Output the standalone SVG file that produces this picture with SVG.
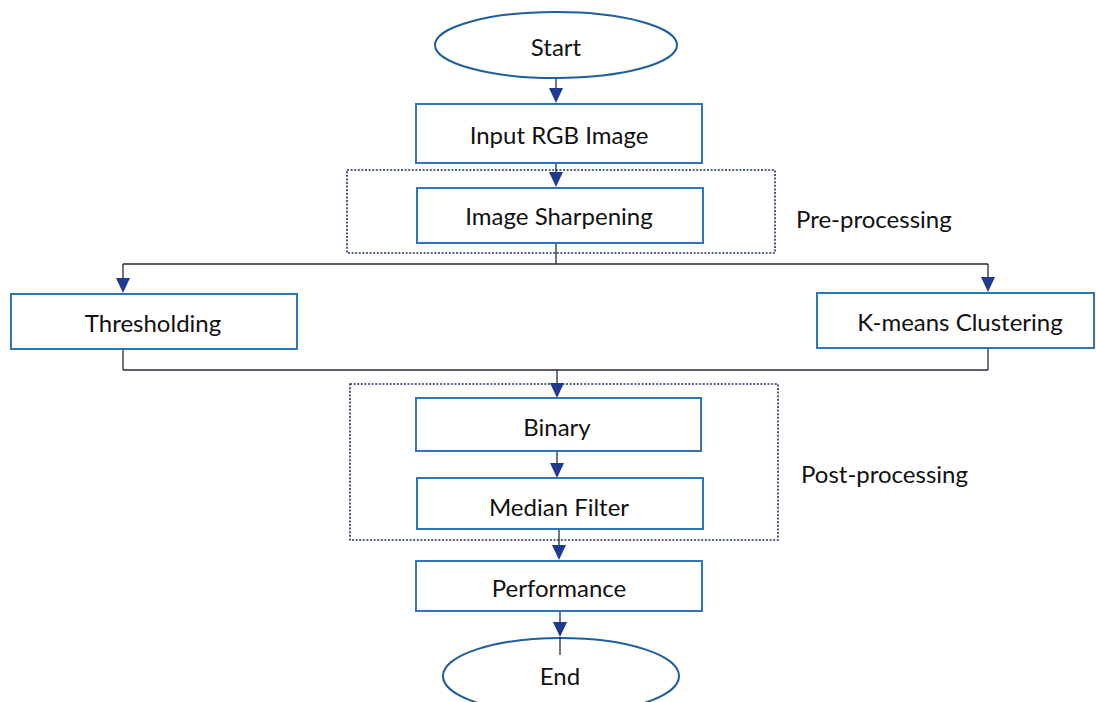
<svg xmlns="http://www.w3.org/2000/svg" width="1096" height="702" viewBox="0 0 1096 702">
<style>
.box{fill:#fff;stroke:#2e75b6;stroke-width:2}
.ell{fill:#fff;stroke:#1f5f9f;stroke-width:2}
.grp{fill:none;stroke:#1f2f5f;stroke-width:1.6;stroke-dasharray:2 1.6}
.ln{fill:none;stroke:#2a2a3a;stroke-width:1.3}
.ah{fill:#1f3b8f}
.t{font-family:Lato,"Liberation Sans",sans-serif;font-size:24px;fill:#111;text-anchor:middle;dominant-baseline:central}
.lbl{font-family:Lato,"Liberation Sans",sans-serif;font-size:24px;fill:#111;dominant-baseline:central}
</style>
<rect width="1096" height="702" fill="#fff"/>
<g id="preprocessing-group">
<rect class="grp" x="347" y="170" width="428" height="83"/>
<text class="lbl" x="796" y="218">Pre-processing</text>
</g>
<g id="postprocessing-group">
<rect class="grp" x="350" y="384" width="428" height="156"/>
<text class="lbl" x="801" y="473">Post-processing</text>
</g>
<g id="connectors">
<path class="ln" d="M556,77 V90"/>
<path class="ln" d="M556,163 V175"/>
<path class="ln" d="M556,243 V264 M123,264 H988 M123,264 V280 M988,264 V280"/>
<path class="ln" d="M123,349 V370 M988,348 V370 M123,370 H988 M557,370 V385"/>
<path class="ln" d="M557,451 V465"/>
<path class="ln" d="M559,529 V548"/>
<path class="ln" d="M560,611 V625"/>
<path class="ah" d="M549,88 L563,88 L556,103 Z"/>
<path class="ah" d="M549,172 L563,172 L556,187 Z"/>
<path class="ah" d="M116,278 L130,278 L123,293 Z"/>
<path class="ah" d="M981,277 L995,277 L988,292 Z"/>
<path class="ah" d="M550,383 L564,383 L557,398 Z"/>
<path class="ah" d="M550,463 L564,463 L557,478 Z"/>
<path class="ah" d="M552,545 L566,545 L559,560 Z"/>
<path class="ah" d="M553,622 L567,622 L560,637 Z"/>
</g>
<g id="start">
<ellipse class="ell" cx="556" cy="45" rx="121" ry="33"/>
<text class="t" x="556" y="46">Start</text>
</g>
<g id="input-rgb-image">
<rect class="box" x="416" y="104" width="286" height="59"/>
<text class="t" x="559" y="134">Input RGB Image</text>
</g>
<g id="image-sharpening">
<rect class="box" x="417" y="188" width="286" height="55"/>
<text class="t" x="559" y="215">Image Sharpening</text>
</g>
<g id="thresholding">
<rect class="box" x="11" y="294" width="286" height="55"/>
<text class="t" x="153" y="322">Thresholding</text>
</g>
<g id="kmeans-clustering">
<rect class="box" x="817" y="293" width="277" height="55"/>
<text class="t" x="960" y="321">K-means Clustering</text>
</g>
<g id="binary">
<rect class="box" x="416" y="398" width="285" height="53"/>
<text class="t" x="557" y="426">Binary</text>
</g>
<g id="median-filter">
<rect class="box" x="417" y="478" width="286" height="51"/>
<text class="t" x="559" y="506">Median Filter</text>
</g>
<g id="performance">
<rect class="box" x="416" y="561" width="286" height="50"/>
<text class="t" x="559" y="587">Performance</text>
</g>
<g id="end">
<ellipse class="ell" cx="561" cy="676" rx="118" ry="38"/>
<path class="ln" d="M560,637 V655"/>
<text class="t" x="560" y="675">End</text>
</g>
</svg>
